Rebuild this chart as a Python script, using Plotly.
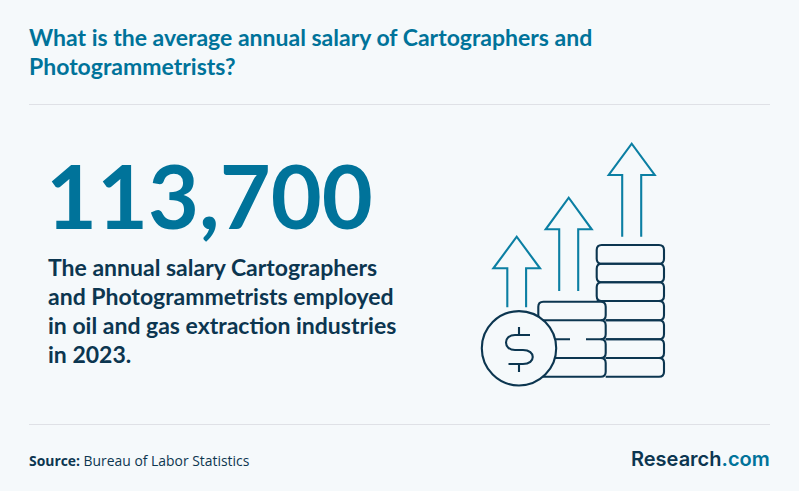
import plotly.graph_objects as go

W, H = 799, 491
BG = '#f5f9fb'
TEAL = '#00739a'
DARK = '#0c3650'
ICON_TEAL = '#0b7fa3'
RULE = '#dfe1e6'

title_lines = ['What is the average annual salary of Cartographers and', 'Photogrammetrists?']
title_y = [37, 66]
big_number = '113,700'
body_lines = ['The annual salary Cartographers',
              'and Photogrammetrists employed',
              'in oil and gas extraction industries',
              'in 2023.']
body_y = [267, 296, 325, 354]
source_label = 'Source:'
source_name = 'Bureau of Labor Statistics'
brand_a = 'Research'
brand_b = '.com'

rule_y = [104.5, 424.5]

# arrows: tip x, tip y, half width of head, head bottom y, half width of shaft, shaft bottom y
arrows = [(516.7, 236.7, 23.3, 268.3, 9.4, 307.3),
          (568.7, 197.7, 23, 229.3, 9.5, 291),
          (631.7, 143.7, 23, 175, 9.5, 236.7)]

# coin stacks
right_left, right_right = 596.7, 664
right_rows = [245, 263.7, 282.3, 301, 320.3, 339.3, 358, 376.7]
mid_left, mid_right = 538.3, 605.7
mid_rows = [301.7, 320.3, 339.3, 358, 376.7]
coin = (519, 348.3, 37.2)


def pill(x0, x1, y0, y1, r=5):
    return (f'M{x0+r},{y0} L{x1-r},{y0} Q{x1},{y0} {x1},{y0+r} L{x1},{y1-r} Q{x1},{y1} {x1-r},{y1} '
            f'L{x0+r},{y1} Q{x0},{y1} {x0},{y1-r} L{x0},{y0+r} Q{x0},{y0} {x0+r},{y0} Z')


def path_shape(path, color, width=2.1, fill=None):
    return dict(type='path', path=path, xref='x', yref='y', layer='above',
                line=dict(color=color, width=width), fillcolor=fill or 'rgba(0,0,0,0)')


shapes = []
for y in rule_y:
    shapes.append(dict(type='line', x0=29, x1=770, y0=y, y1=y, xref='x', yref='y',
                       line=dict(color=RULE, width=1), layer='below'))

for tx, ty, hw, hb, sw, sb in arrows:
    shapes.append(path_shape(f'M{tx-sw},{sb} L{tx-sw},{hb} L{tx-hw},{hb} L{tx},{ty} L{tx+hw},{hb} L{tx+sw},{hb} L{tx+sw},{sb}', ICON_TEAL))

# right stack
for i in range(3):
    shapes.append(path_shape(pill(right_left, right_right, right_rows[i], right_rows[i+1]), DARK))
r_y = right_rows
shapes.append(path_shape(f'M{right_left},{r_y[3]} L633,{r_y[3]} M648,{r_y[3]} L{right_right-5},{r_y[3]} Q{right_right},{r_y[3]} {right_right},{r_y[3]+5} '
                         f'L{right_right},{r_y[4]-5} Q{right_right},{r_y[4]} {right_right-5},{r_y[4]} L{mid_right},{r_y[4]}', DARK))
for i in range(4, 7):
    shapes.append(path_shape(f'M{mid_right},{r_y[i]} L{right_right-5},{r_y[i]} Q{right_right},{r_y[i]} {right_right},{r_y[i]+5} '
                             f'L{right_right},{r_y[i+1]-5} Q{right_right},{r_y[i+1]} {right_right-5},{r_y[i+1]} L{mid_right},{r_y[i+1]}', DARK))

# middle stack, left ends are hidden by the coin
shapes.append(path_shape(pill(mid_left, mid_right, mid_rows[0], mid_rows[1]), DARK))
m_y = mid_rows
shapes.append(path_shape(f'M550,{m_y[2]} L570,{m_y[2]} M586,{m_y[2]} L{mid_right-5},{m_y[2]} Q{mid_right},{m_y[2]} {mid_right},{m_y[2]+5} '
                         f'L{mid_right},{m_y[3]-5} Q{mid_right},{m_y[3]} {mid_right-5},{m_y[3]} L545,{m_y[3]}', DARK))
shapes.append(path_shape(f'M{mid_right-5},{m_y[1]} Q{mid_right},{m_y[1]} {mid_right},{m_y[1]+5} L{mid_right},{m_y[2]-5} Q{mid_right},{m_y[2]} {mid_right-5},{m_y[2]}', DARK))
shapes.append(path_shape(f'M{mid_right-5},{m_y[3]} Q{mid_right},{m_y[3]} {mid_right},{m_y[3]+5} L{mid_right},{m_y[4]-5} Q{mid_right},{m_y[4]} {mid_right-5},{m_y[4]} L530,{m_y[4]}', DARK))

# coin
cx, cy, cr = coin
shapes.append(dict(type='circle', x0=cx-cr, x1=cx+cr, y0=cy-cr, y1=cy+cr, xref='x', yref='y', layer='above',
                   line=dict(color=DARK, width=2.1), fillcolor=BG))
shapes.append(path_shape('M530,335 L515,335 C503,335 503,350 515,350 L523,350 C536,350 536,364 523,364 L508.5,364', DARK))
shapes.append(path_shape('M519,327 L519,335 M519,364 L519,372', DARK))

annotations = []


def add_text(x, y, text, size, color, family='Lato', anchor='left', weight=None):
    font = dict(family=family, size=size, color=color)
    if weight:
        font['weight'] = weight
    annotations.append(dict(x=x, y=y, xref='x', yref='y', text=text, showarrow=False, xanchor=anchor, yanchor='middle',
                            font=font, align=anchor))


for t, y in zip(title_lines, title_y):
    add_text(27, y, f'<b>{t}</b>', 23, TEAL)
add_text(44, 195, f'<b>{big_number}</b>', 88, TEAL)
for t, y in zip(body_lines, body_y):
    add_text(46, y, f'<b>{t}</b>', 23, DARK)
add_text(27, 460, f'<b>{source_label}</b> {source_name}', 13.9, DARK, family='Open Sans')
add_text(772, 459, f'{brand_a}<span style="color:{TEAL}">{brand_b}</span>', 20, DARK, family='Inter', anchor='right', weight=600)

fig = go.Figure()
fig.update_layout(width=W, height=H, margin=dict(l=0, r=0, t=0, b=0),
                  paper_bgcolor=BG, plot_bgcolor=BG, showlegend=False,
                  xaxis=dict(range=[0, W], visible=False, fixedrange=True),
                  yaxis=dict(range=[H, 0], visible=False, fixedrange=True),
                  shapes=shapes, annotations=annotations)
fig.write_html("out.html", config=dict(displayModeBar=False),
               post_script="document.body.style.margin='0';document.body.style.overflow='hidden';")
